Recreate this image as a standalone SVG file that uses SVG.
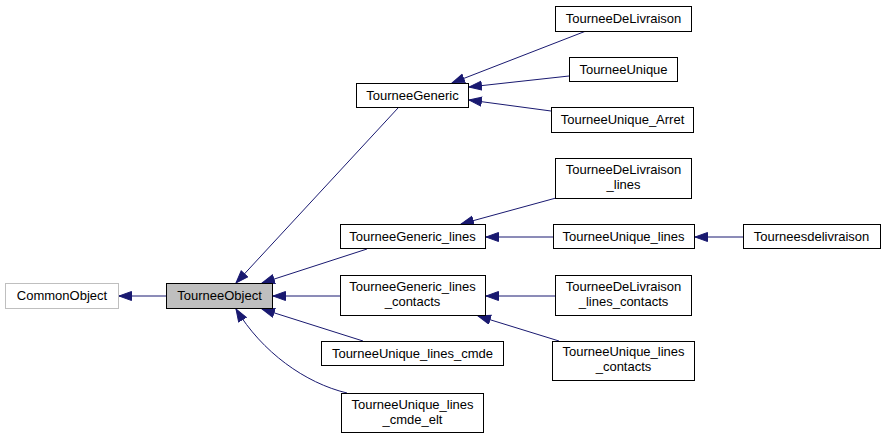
<svg xmlns="http://www.w3.org/2000/svg" width="887" height="439" viewBox="0 0 887 439">
<style>
  .n rect { fill: #ffffff; stroke: #000000; stroke-width: 1; }
  .n text { font-family: "Liberation Sans", Arial, sans-serif; font-size: 13px; fill: #000000; text-anchor: middle; }
  #CommonObject rect { stroke: #bfbfbf; }
  #TourneeObject rect { fill: #bfbfbf; }
  .e path { fill: none; stroke: #191970; stroke-width: 1; marker-end: url(#arr); }
</style>
<defs>
  <marker id="arr" markerUnits="userSpaceOnUse" markerWidth="14" markerHeight="11" refX="13" refY="5" orient="auto">
    <path d="M0.5,0.5 L13,5 L0.5,9.5 z" fill="#191970" stroke="#191970" stroke-width="1"/>
  </marker>
</defs>
<rect width="887" height="439" fill="#ffffff"/>
<g id="connectors" class="e">
  <path d="M166,296 L119,296"/>
  <path d="M398,108 L236,283"/>
  <path d="M367,249 L262,283"/>
  <path d="M340,296 L273,296"/>
  <path d="M363,341 L262,309"/>
  <path d="M347,393 C305,383 262,352 236,309"/>
  <path d="M586,31 L452,83"/>
  <path d="M569,76 L469,87"/>
  <path d="M551,111 L469,100"/>
  <path d="M556,198 L461,224"/>
  <path d="M553,237 L486,237"/>
  <path d="M743,237 L695,237"/>
  <path d="M555,296 L486,296"/>
  <path d="M559,341 L478,316"/>
</g>
<g id="CommonObject" class="n"><rect x="5.5" y="283.5" width="113" height="25"/><text x="62" y="300">CommonObject</text></g>
<g id="TourneeObject" class="n"><rect x="166.5" y="283.5" width="106" height="25"/><text x="219.5" y="300">TourneeObject</text></g>
<g id="TourneeGeneric" class="n"><rect x="356.5" y="83.5" width="112" height="24"/><text x="412.5" y="100">TourneeGeneric</text></g>
<g id="TourneeDeLivraison" class="n"><rect x="555.5" y="6.5" width="136" height="25"/><text x="623.5" y="23">TourneeDeLivraison</text></g>
<g id="TourneeUnique" class="n"><rect x="569.5" y="57.5" width="108" height="24"/><text x="623.5" y="74">TourneeUnique</text></g>
<g id="TourneeUnique_Arret" class="n"><rect x="551.5" y="107.5" width="142" height="25"/><text x="622.5" y="124">TourneeUnique_Arret</text></g>
<g id="TourneeDeLivraison_lines" class="n"><rect x="555.5" y="158.5" width="136" height="40"/><text x="623.5" y="174">TourneeDeLivraison</text><text x="623.5" y="189">_lines</text></g>
<g id="TourneeGeneric_lines" class="n"><rect x="340.5" y="224.5" width="145" height="24"/><text x="412.5" y="241">TourneeGeneric_lines</text></g>
<g id="TourneeUnique_lines" class="n"><rect x="553.5" y="224.5" width="141" height="24"/><text x="623.5" y="241">TourneeUnique_lines</text></g>
<g id="Tourneesdelivraison" class="n"><rect x="743.5" y="224.5" width="137" height="24"/><text x="811.5" y="241">Tourneesdelivraison</text></g>
<g id="TourneeGeneric_lines_contacts" class="n"><rect x="340.5" y="275.5" width="145" height="40"/><text x="412.5" y="291">TourneeGeneric_lines</text><text x="412.5" y="306">_contacts</text></g>
<g id="TourneeDeLivraison_lines_contacts" class="n"><rect x="555.5" y="275.5" width="136" height="40"/><text x="623.5" y="291">TourneeDeLivraison</text><text x="623.5" y="306">_lines_contacts</text></g>
<g id="TourneeUnique_lines_cmde" class="n"><rect x="321.5" y="341.5" width="182" height="24"/><text x="412.5" y="358">TourneeUnique_lines_cmde</text></g>
<g id="TourneeUnique_lines_contacts" class="n"><rect x="552.5" y="341.5" width="142" height="39"/><text x="623.5" y="356">TourneeUnique_lines</text><text x="623.5" y="371">_contacts</text></g>
<g id="TourneeUnique_lines_cmde_elt" class="n"><rect x="341.5" y="393.5" width="142" height="39"/><text x="412.5" y="409">TourneeUnique_lines</text><text x="412.5" y="424">_cmde_elt</text></g>
</svg>
